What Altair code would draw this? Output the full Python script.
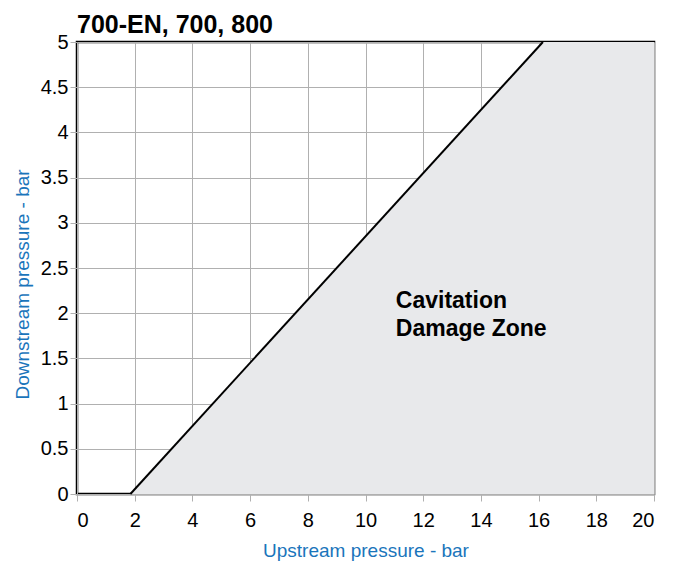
import altair as alt
import pandas as pd

# Boundary line of the cavitation damage zone
boundary_x = [1.85, 16.15]
boundary_y = [0.0, 5.0]

# Shaded zone polygon (upper edge), filled down to 0
zone_x = [1.85, 16.15, 20.0]
zone_y = [0.0, 5.0, 5.0]

label_x = [11.05]
label_y = [2.14]
label_text = [["Cavitation", "Damage Zone"]]

x_ticks = [0, 2, 4, 6, 8, 10, 12, 14, 16, 18, 20]
y_ticks = [0, 0.5, 1, 1.5, 2, 2.5, 3, 3.5, 4, 4.5, 5]

line_df = pd.DataFrame({"x": boundary_x, "y": boundary_y})
zone_df = pd.DataFrame({"x": zone_x, "y": zone_y})
label_df = pd.DataFrame({"x": label_x, "y": label_y, "t": label_text})

FONT = "Liberation Sans"
BLUE = "#1a75bb"

xs = alt.Scale(domain=[0, 20], nice=False)
ys = alt.Scale(domain=[0, 5], nice=False)

x_axis = alt.Axis(values=x_ticks, title="Upstream pressure - bar", labelFontSize=20,
                  titleFontSize=19, titleColor=BLUE, titleFontWeight="normal",
                  labelPadding=9, titlePadding=11, tickSize=7)
y_axis = alt.Axis(values=y_ticks, title="Downstream pressure - bar", labelFontSize=20,
                  titleFontSize=19, titleColor=BLUE, titleFontWeight="normal",
                  labelPadding=2, titlePadding=8, tickSize=7, titleY=242,
                  labelExpr="datum.value == 0 ? '0' : format(datum.value, '.2~f')")

zone = alt.Chart(zone_df).mark_area(color="#e8e9eb", opacity=1).encode(
    x=alt.X("x:Q", scale=xs, axis=x_axis),
    y=alt.Y("y:Q", scale=ys, axis=y_axis),
    y2=alt.datum(0),
)

line = alt.Chart(line_df).mark_line(color="black", strokeWidth=2).encode(
    x=alt.X("x:Q", scale=xs),
    y=alt.Y("y:Q", scale=ys),
)

label = alt.Chart(label_df).mark_text(
    align="left", baseline="middle", fontSize=23, fontWeight="bold",
    font=FONT, color="black", lineHeight=28
).encode(
    x=alt.X("x:Q", scale=xs),
    y=alt.Y("y:Q", scale=ys),
    text="t:N",
)

chart = alt.layer(zone, line, label).properties(
    width=577, height=452,
    title=alt.TitleParams("700-EN, 700, 800", anchor="start", frame="group",
                          fontSize=25, fontWeight="bold", font=FONT,
                          color="black", offset=-6),
).configure_view(
    stroke="black", strokeWidth=2.5
).configure_axis(
    gridColor="#b0b0b0", gridWidth=1, gridOpacity=1,
    domain=False, tickColor="#b0b0b0", labelColor="black",
    labelFont=FONT, titleFont=FONT, zindex=1
)

chart.save("out.html", embed_options={"renderer": "svg", "actions": False})
